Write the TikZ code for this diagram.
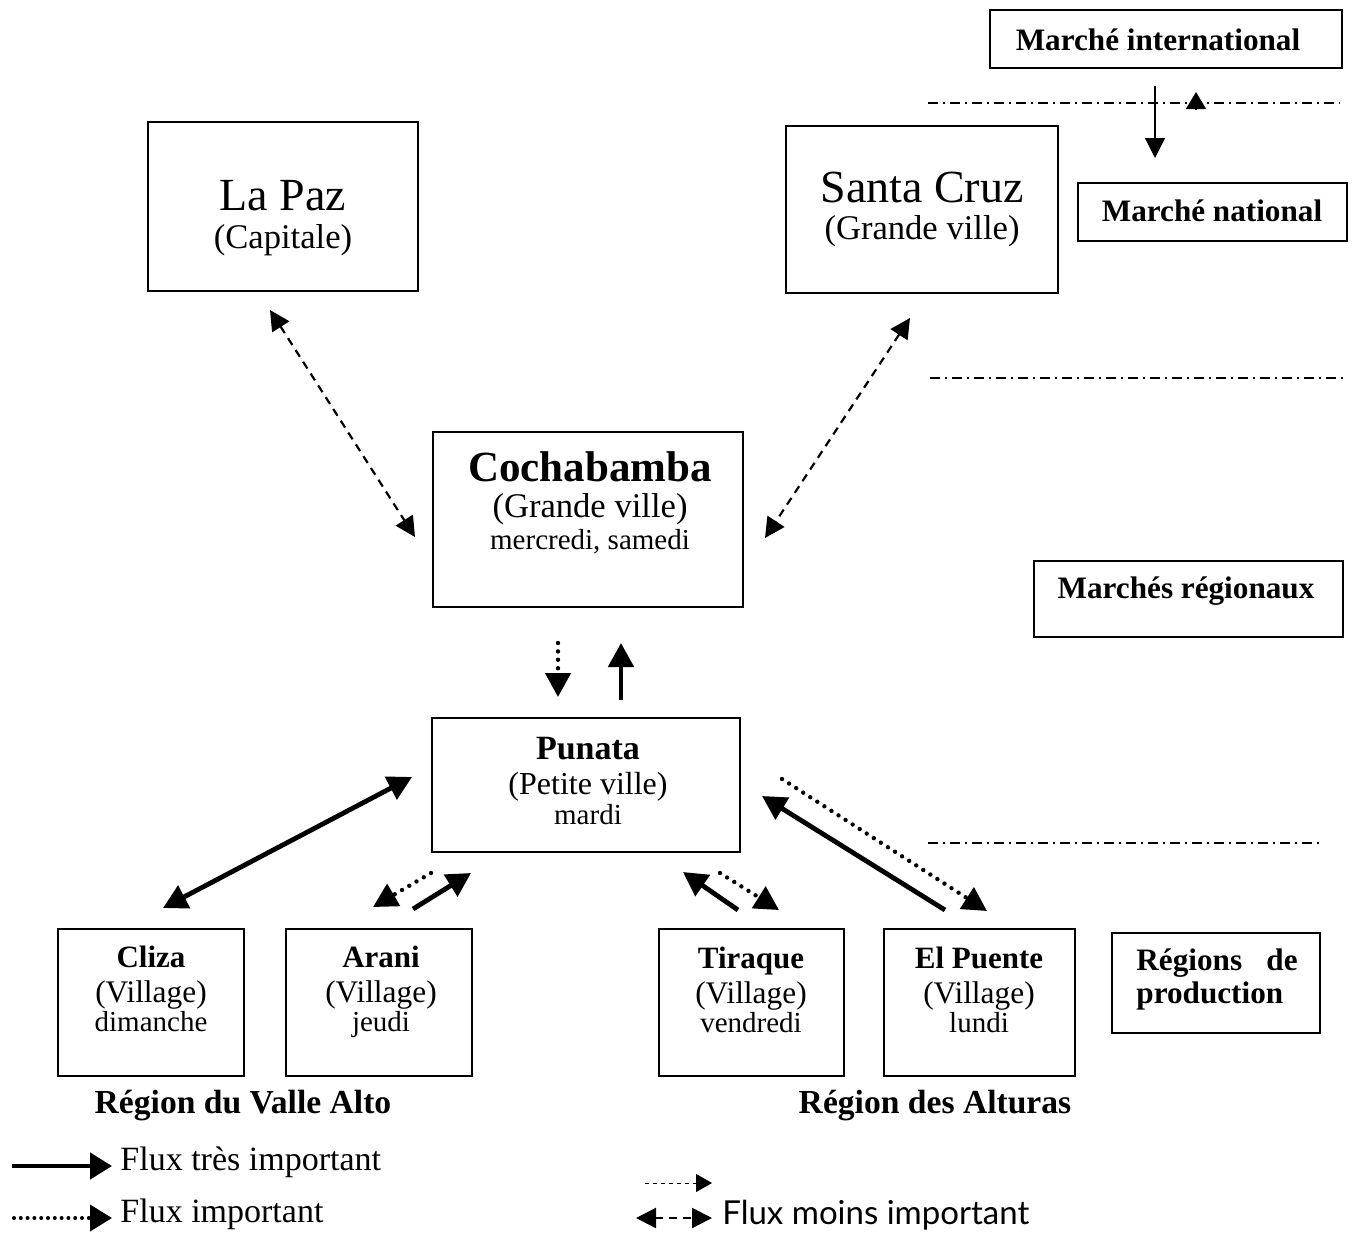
\documentclass[tikz,border=0pt]{standalone}
\usepackage{fontspec}
\setmainfont{Liberation Serif}
\newfontfamily\legsans{Lato}
\usetikzlibrary{arrows.meta}
\begin{document}
\begin{tikzpicture}[x=0.5pt,y=-0.5pt,
  box/.style={draw,line width=1.3pt,rectangle,inner sep=0pt,outer sep=0pt},
  txt/.style={anchor=base,inner sep=0pt},
  sepline/.style={line width=0.8pt,dash pattern=on 5pt off 2.5pt on 1pt off 2.5pt},
  solidarr/.style={line width=2.4pt,-{Triangle[length=12pt,width=12.5pt]}},
  solidboth/.style={line width=2.4pt,{Triangle[length=12pt,width=12.5pt]}-{Triangle[length=12pt,width=12.5pt]}},
  dotarr/.style={line width=2.2pt,dash pattern=on 0pt off 4.2pt,line cap=round,-{Triangle[length=12pt,width=12.5pt]}},
  dashboth/.style={line width=1.1pt,dash pattern=on 4pt off 3pt,{Triangle[length=10pt,width=10pt]}-{Triangle[length=10pt,width=10pt]}},
  fA/.style={font=\fontsize{23}{27}\selectfont},
  fB/.style={font=\fontsize{17.3}{20}\selectfont},
  fC/.style={font=\fontsize{14.5}{17}\selectfont},
  fCb/.style={font=\fontsize{21.5}{25}\selectfont\bfseries},
  fPb/.style={font=\fontsize{17}{20}\selectfont\bfseries},
  fP/.style={font=\fontsize{16}{19}\selectfont},
  fV/.style={font=\fontsize{15.7}{19}\selectfont},
  fVb/.style={font=\fontsize{15.5}{19}\selectfont\bfseries},
  fM/.style={font=\fontsize{15.6}{19}\selectfont\bfseries},
  fR/.style={font=\fontsize{16.8}{20}\selectfont\bfseries},
  fL/.style={font=\fontsize{17}{20}\selectfont},
]
\useasboundingbox (0,0) rectangle (1354,1232);

% ---- boxes
\node[box,minimum width=176pt,minimum height=29pt] (intl) at (1166,39) {};
\node[box,minimum width=134.5pt,minimum height=29pt] (natl) at (1212.5,212) {};
\node[box,minimum width=154.5pt,minimum height=38pt] (regl) at (1188.5,599) {};
\node[box,minimum width=104pt,minimum height=50pt] (prod) at (1216,983) {};
\node[box,minimum width=135pt,minimum height=84.5pt] (lapaz) at (283,206.5) {};
\node[box,minimum width=136pt,minimum height=83.5pt] (scruz) at (922,209.5) {};
\node[box,minimum width=155pt,minimum height=87.5pt] (cocha) at (588,519.5) {};
\node[box,minimum width=154pt,minimum height=67pt] (punata) at (586,785) {};
\node[box,minimum width=93pt,minimum height=73.5pt] (cliza) at (151,1002.5) {};
\node[box,minimum width=93pt,minimum height=73.5pt] (arani) at (379,1002.5) {};
\node[box,minimum width=92.5pt,minimum height=73.5pt] (tiraque) at (751.5,1002.5) {};
\node[box,minimum width=95.5pt,minimum height=73.5pt] (puente) at (979.5,1002.5) {};

% ---- texts
\node[txt,fM] (intlT) at (1158,50) {Marché international};
\node[txt,fM] (natlT) at (1212,221) {Marché national};
\node[txt,fM] (reglT) at (1186,598) {Marchés régionaux};
\node[txt,fM,anchor=base west] (prodT1) at (1136,970) {Régions};
\node[txt,fM,anchor=base east] (prodT2) at (1298,970) {de};
\node[txt,fM,anchor=base west] (prodT3) at (1136,1003) {production};

\node[txt,fA] (lapazT1) at (283,210) {La Paz};
\node[txt,fB] (lapazT2) at (283,248) {(Capitale)};
\node[txt,fA] (scruzT1) at (922,202) {Santa Cruz};
\node[txt,fB] (scruzT2) at (922,239) {(Grande ville)};

\node[txt,fCb] (cochaT1) at (590,481) {Cochabamba};
\node[txt,fB] (cochaT2) at (590,517) {(Grande ville)};
\node[txt,fC] (cochaT3) at (590,549) {mercredi, samedi};

\node[txt,fPb] (punataT1) at (588,759) {Punata};
\node[txt,fP] (punataT2) at (588,794) {(Petite ville)};
\node[txt,fC] (punataT3) at (588,824) {mardi};

\node[txt,fVb] (clizaT1) at (151,967) {Cliza};
\node[txt,fV] (clizaT2) at (151,1002) {(Village)};
\node[txt,fC] (clizaT3) at (151,1031) {dimanche};
\node[txt,fVb] (araniT1) at (381,967) {Arani};
\node[txt,fV] (araniT2) at (381,1002) {(Village)};
\node[txt,fC] (araniT3) at (381,1031) {jeudi};
\node[txt,fVb] (tiraqueT1) at (751,968) {Tiraque};
\node[txt,fV] (tiraqueT2) at (751,1003) {(Village)};
\node[txt,fC] (tiraqueT3) at (751,1032) {vendredi};
\node[txt,fVb] (puenteT1) at (979,968) {El Puente};
\node[txt,fV] (puenteT2) at (979,1003) {(Village)};
\node[txt,fC] (puenteT3) at (979,1032) {lundi};

\node[txt,fR] (valle) at (243,1113) {Région du Valle Alto};
\node[txt,fR] (alturas) at (935,1113) {Région des Alturas};

% ---- separator lines
\coordinate (s1a) at (928,103); \coordinate (s1b) at (1340,103);
\coordinate (s2a) at (930,378); \coordinate (s2b) at (1345,378);
\coordinate (s3a) at (928,843); \coordinate (s3b) at (1320,843);
\draw[sepline] (s1a) -- (s1b);
\draw[sepline] (s2a) -- (s2b);
\draw[sepline] (s3a) -- (s3b);

% ---- international / national arrows
\coordinate (iA) at (1155,86); \coordinate (iB) at (1155,158);
\draw[line width=0.6pt,-{Triangle[length=10pt,width=10pt]}] (iA) -- (iB);
\coordinate (uA) at (1196,109); \coordinate (uB) at (1196,92);
\draw[line width=0.6pt,-{Triangle[length=8.5pt,width=10pt]}] (uA) -- (uB);

% ---- dashed arrows
\coordinate (lpA) at (270,310); \coordinate (lpB) at (415,537);
\draw[dashboth] (lpA) -- (lpB);
\coordinate (scA) at (910,318); \coordinate (scB) at (765,538);
\draw[dashboth] (scA) -- (scB);

% ---- Cochabamba / Punata
\coordinate (cpA) at (558,643); \coordinate (cpB) at (558,697);
\draw[dotarr] (cpA) -- (cpB);
\coordinate (pcA) at (621,700); \coordinate (pcB) at (621,643);
\draw[solidarr] (pcA) -- (pcB);

% ---- Punata / villages
\coordinate (clA) at (412,777); \coordinate (clB) at (163,908);
\draw[solidboth] (clA) -- (clB);

\coordinate (arA) at (431,873); \coordinate (arB) at (373,907);
\draw[dotarr] (arA) -- (arB);
\coordinate (arC) at (413,909); \coordinate (arD) at (471,873);
\draw[solidarr] (arC) -- (arD);

\coordinate (tiA) at (738,910); \coordinate (tiB) at (683,872);
\draw[solidarr] (tiA) -- (tiB);
\coordinate (tiC) at (720,873); \coordinate (tiD) at (779,910);
\draw[dotarr] (tiC) -- (tiD);

\coordinate (epA) at (945,910); \coordinate (epB) at (762,796);
\draw[solidarr] (epA) -- (epB);
\coordinate (epC) at (782,779); \coordinate (epD) at (987,911);
\draw[dotarr] (epC) -- (epD);

% ---- legend
\coordinate (lg1a) at (12,1166); \coordinate (lg1b) at (112,1166);
\draw[line width=2.4pt,-{Triangle[length=11pt,width=13pt]}] (lg1a) -- (lg1b);
\node[txt,fL,anchor=base west] (lg1T) at (120,1170) {Flux très important};
\coordinate (lg2a) at (14,1218); \coordinate (lg2b) at (112,1218);
\draw[line width=2pt,dash pattern=on 0pt off 3.4pt,line cap=round,-{Triangle[length=11pt,width=13pt]}] (lg2a) -- (lg2b);
\node[txt,fL,anchor=base west] (lg2T) at (120,1222) {Flux important};

\coordinate (lg3a) at (645,1183); \coordinate (lg3b) at (712,1183);
\draw[line width=0.4pt,dash pattern=on 2pt off 2pt,-{Triangle[length=8pt,width=9pt]}] (lg3a) -- (lg3b);
\coordinate (lg4a) at (636,1218); \coordinate (lg4b) at (712,1218);
\draw[dashboth] (lg4a) -- (lg4b);
\node[txt,anchor=base west,font=\legsans\fontsize{16.5}{20}\selectfont] (lg4T) at (722,1224) {Flux moins important};
\end{tikzpicture}
\end{document}
